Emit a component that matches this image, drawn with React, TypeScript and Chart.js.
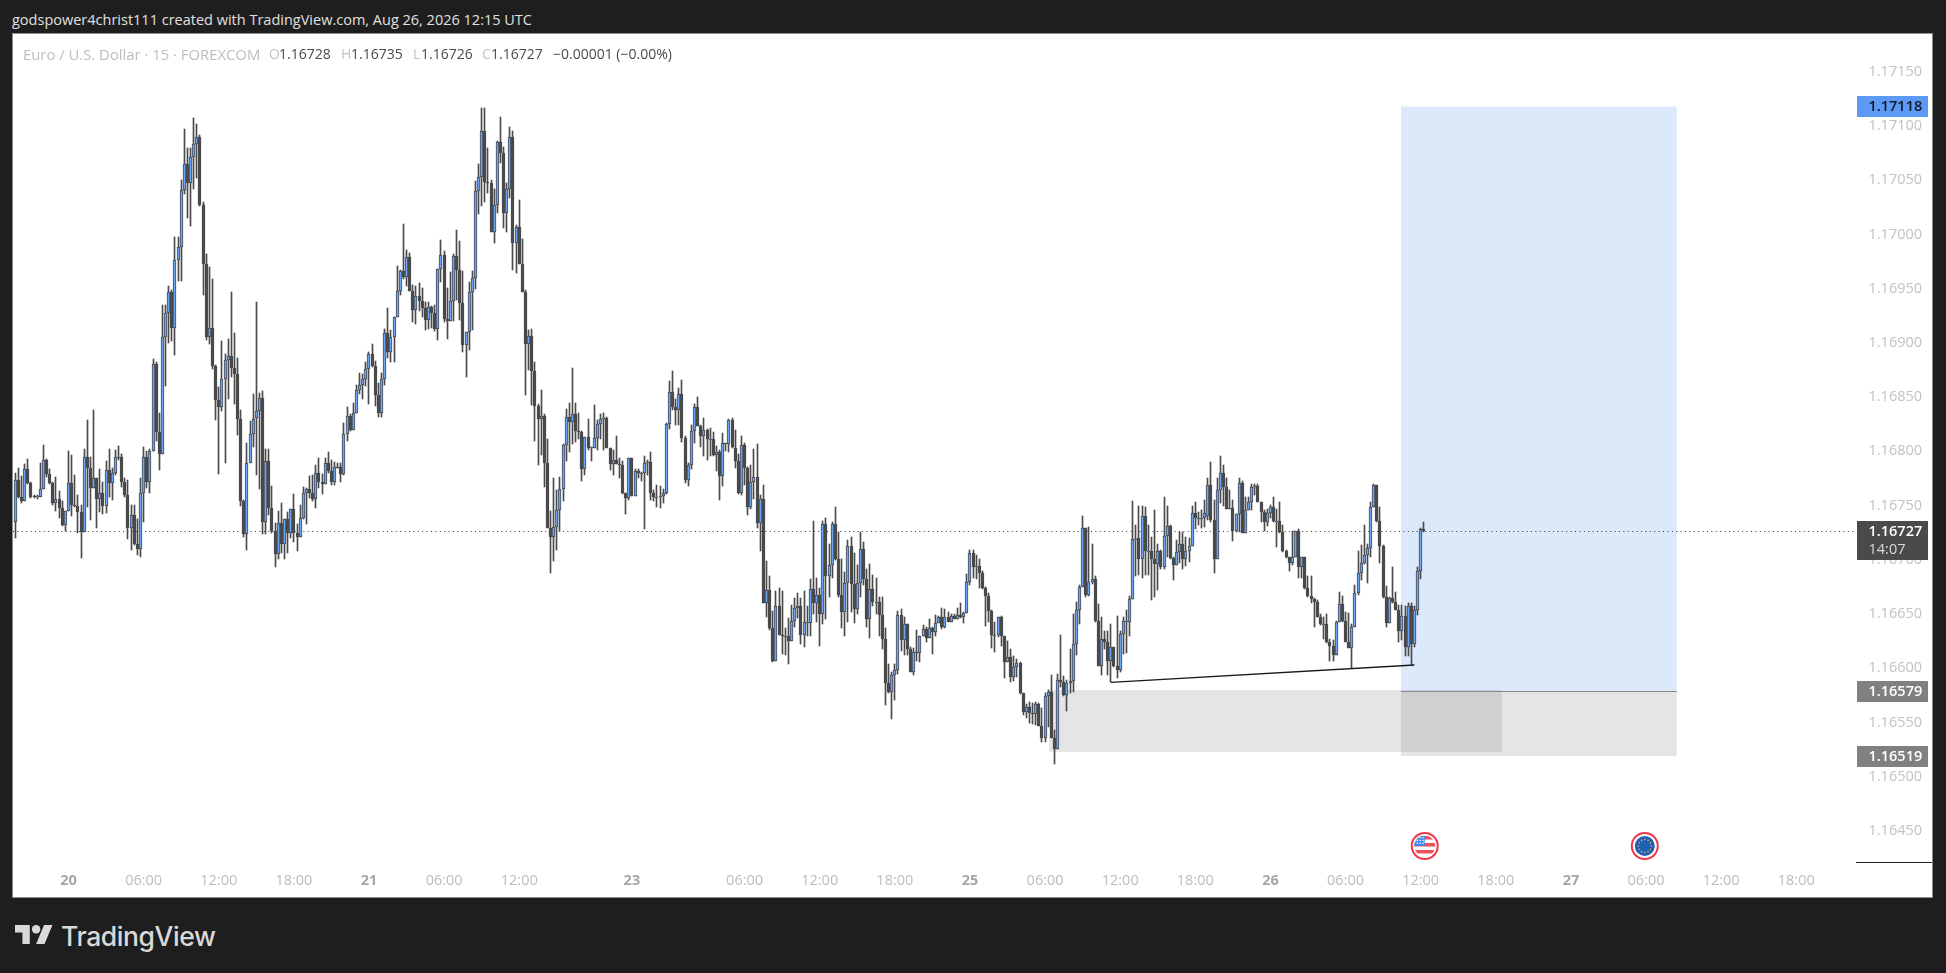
import React, { useEffect, useRef } from "react";
import { Chart, registerables } from "chart.js";

Chart.register(...registerables);

// Candles as [open, high, low, close] in 1e-5 price points.
const session20: number[][] = [
[116735,116780,116720,116774],[116774,116785,116757,116758],[116758,116777,116752,116754],[116754,116788,116754,116784],[116784,116793,116770,116771],[116771,116772,116757,116758],[116759,116760,116757,116758],[116758,116760,116756,116759],[116758,116789,116758,116765],[116765,116806,116765,116792],
[116792,116793,116776,116779],[116779,116784,116770,116771],[116771,116772,116751,116752],[116752,116776,116745,116756],[116756,116763,116739,116748],[116748,116754,116731,116732],[116732,116745,116727,116745],[116745,116800,116745,116771],[116771,116797,116740,116751],[116751,116778,116749,116750],
[116750,116760,116725,116744],[116744,116751,116702,116726],[116726,116802,116726,116795],[116795,116829,116749,116785],[116785,116795,116737,116766],[116766,116838,116766,116775],[116775,116775,116729,116756],[116756,116784,116744,116762],[116762,116772,116742,116750],[116750,116791,116743,116783],
[116783,116802,116758,116771],[116771,116785,116755,116780],[116780,116801,116778,116795],[116795,116805,116792,116795],[116795,116798,116767,116772],[116772,116775,116758,116760],[116760,116774,116719,116729],[116729,116751,116709,116741],[116741,116751,116714,116715],[116715,116738,116704,116710],
[116710,116775,116703,116762],[116762,116804,116735,116795],[116795,116800,116766,116772],[116772,116802,116762,116800],[116800,116885,116800,116881],[116881,116882,116810,116818],[116818,116835,116783,116798],[116798,116935,116798,116905],[116905,116935,116860,116928],[116928,116952,116900,116947],
[116947,116949,116902,116914],[116914,116998,116889,116976],[116976,116998,116957,116988],[116988,117050,116957,117041],[117041,117097,117037,117065],[117065,117080,117015,117047],[117047,117080,117008,117071],[117071,117107,117042,117083],[117083,117102,117052,117090],[117090,117092,117026,117027],
[117027,117030,116944,116973],[116973,116982,116903,116905],[116905,116970,116899,116914],[116914,116959,116876,116879],[116879,116880,116829,116847],[116847,116859,116779,116841],[116841,116902,116837,116867],[116867,116890,116789,116884],[116884,116904,116848,116888],[116888,116947,116869,116877],
[116877,116909,116844,116871],[116871,116886,116815,116830],[116830,116838,116750,116754],[116754,116755,116721,116724],[116724,116808,116709,116789],[116789,116828,116789,116816],[116816,116853,116804,116830],
];

const session21: number[][] = [
[116831,116938,116778,116837],[116837,116854,116765,116849],[116849,116856,116724,116735],[116735,116802,116724,116791],[116791,116802,116741,116748],[116748,116768,116725,116727],[116727,116734,116693,116705],[116705,116745,116701,116734],[116734,116752,116706,116715],[116715,116738,116701,116738],
[116738,116744,116706,116725],[116725,116747,116720,116747],[116747,116761,116716,116725],[116725,116733,116708,116721],[116721,116751,116721,116739],[116739,116767,116738,116762],[116762,116766,116733,116765],[116765,116777,116757,116762],[116762,116778,116754,116756],[116756,116787,116748,116780],
[116780,116794,116766,116772],[116772,116779,116761,116770],[116770,116794,116770,116789],[116789,116799,116780,116782],[116782,116792,116769,116772],[116772,116790,116769,116786],[116786,116789,116785,116785],[116786,116789,116772,116779],[116779,116826,116778,116816],[116816,116841,116810,116833],
[116833,116834,116819,116820],[116820,116845,116820,116835],[116835,116861,116835,116857],[116857,116872,116853,116861],[116861,116871,116848,116867],[116867,116882,116860,116876],[116876,116892,116844,116890],[116890,116899,116878,116879],[116879,116883,116842,116852],[116852,116863,116832,116835],
[116835,116872,116832,116867],[116867,116913,116861,116909],[116909,116932,116886,116892],[116892,116912,116882,116905],[116905,116924,116882,116924],[116924,116971,116924,116948],[116948,116967,116944,116966],[116966,117010,116959,116961],[116961,116986,116952,116979],[116979,116983,116948,116948],
[116948,116953,116919,116930],[116930,116952,116917,116943],[116943,116955,116929,116939],[116939,116951,116924,116932],[116932,116938,116912,116921],[116921,116938,116913,116933],[116933,116934,116914,116928],[116928,116935,116911,116913],[116913,116968,116903,116968],[116968,116995,116956,116981],
[116981,116985,116919,116922],[116922,116951,116904,116920],[116920,116965,116920,116939],[116939,116982,116920,116980],[116980,117004,116940,116967],[116967,116994,116921,116937],[116937,116966,116892,116898],[116898,116910,116869,116910],[116910,116956,116893,116947],[116947,116966,116912,116960],
[116960,117049,116950,117040],[117040,117065,117019,117053],[117053,117117,117026,117095],[117095,117117,117030,117048],[117048,117080,117038,117047],[117047,117050,117002,117002],
];

const session23: number[][] = [
[117002,117042,116992,117027],[117027,117086,117020,117085],[117085,117108,117066,117075],[117075,117081,117006,117020],[117020,117047,117002,117042],[117042,117099,117034,117090],[117090,117095,116967,116992],[116992,117009,116964,117007],[117007,117032,116973,116973],[116973,116996,116947,116947],
[116947,116949,116852,116899],[116899,116912,116875,116906],[116906,116913,116843,116874],[116874,116882,116810,116842],[116842,116844,116787,116830],[116830,116857,116797,116833],[116833,116834,116767,116789],[116789,116811,116729,116729],[116729,116745,116688,116721],[116721,116775,116699,116730],
[116730,116764,116709,116746],[116746,116776,116727,116765],[116765,116807,116754,116806],[116806,116839,116791,116832],[116832,116845,116799,116827],[116827,116877,116807,116834],[116834,116845,116809,116819],[116819,116835,116811,116818],[116818,116819,116773,116784],[116784,116813,116778,116813],
[116813,116830,116801,116803],[116803,116804,116791,116804],[116803,116843,116803,116812],[116812,116829,116801,116825],[116825,116834,116811,116830],[116830,116835,116801,116831],[116831,116832,116803,116803],[116803,116803,116783,116788],[116788,116801,116778,116792],[116792,116814,116788,116788],
[116788,116794,116775,116787],[116787,116791,116761,116762],[116762,116762,116742,116757],[116757,116794,116755,116794],[116794,116794,116759,116759],[116759,116784,116759,116782],[116782,116784,116775,116780],[116780,116781,116773,116780],[116780,116796,116728,116789],[116789,116792,116778,116790],
[116790,116799,116755,116762],[116762,116764,116754,116758],[116758,116769,116749,116758],[116758,116768,116748,116759],[116759,116765,116752,116762],[116762,116826,116761,116825],[116825,116865,116821,116855],[116855,116874,116838,116841],[116841,116848,116824,116838],[116838,116858,116824,116853],
[116853,116866,116809,116812],[116812,116814,116771,116774],[116774,116789,116768,116787],[116787,116824,116784,116819],[116819,116844,116808,116841],[116841,116850,116823,116823],[116823,116824,116804,116814],[116814,116831,116796,116820],[116820,116821,116792,116811],[116811,116822,116796,116811],
[116811,116818,116796,116797],[116797,116805,116782,116799],[116799,116801,116755,116777],[116777,116817,116768,116808],[116808,116808,116800,116807],[116807,116830,116799,116829],[116829,116831,116803,116804],
];

const session24: number[][] = [
[116803,116820,116785,116791],[116791,116798,116761,116762],[116762,116814,116760,116806],[116806,116808,116769,116785],[116785,116786,116741,116749],[116749,116787,116747,116772],[116772,116802,116756,116776],[116776,116807,116729,116734],[116734,116760,116708,116756],[116756,116769,116660,116660],
[116660,116699,116647,116672],[116672,116685,116635,116637],[116637,116653,116606,116607],[116607,116671,116607,116657],[116657,116674,116631,116631],[116631,116671,116613,116630],[116630,116637,116612,116630],[116630,116646,116604,116625],[116625,116658,116625,116644],[116644,116665,116638,116656],
[116656,116669,116646,116657],[116657,116665,116622,116631],[116631,116671,116620,116643],[116643,116657,116630,116643],[116642,116682,116630,116673],[116673,116736,116650,116660],[116660,116683,116643,116668],[116668,116674,116621,116650],[116650,116736,116641,116733],[116733,116739,116645,116685],
[116685,116715,116666,116695],[116695,116735,116683,116733],[116733,116749,116700,116701],[116701,116726,116666,116668],[116668,116701,116637,116652],[116652,116689,116630,116679],[116679,116718,116643,116713],[116713,116721,116652,116678],[116678,116706,116642,116655],[116655,116695,116650,116679],
[116679,116726,116666,116710],[116710,116716,116677,116682],[116682,116692,116638,116645],[116645,116696,116628,116673],[116673,116686,116657,116661],[116661,116683,116650,116661],[116661,116666,116630,116649],[116649,116666,116618,116627],[116627,116637,116566,116586],[116586,116604,116577,116578],
[116578,116597,116553,116594],[116594,116604,116571,116598],[116598,116653,116595,116649],[116649,116655,116616,116626],[116626,116647,116612,116641],[116641,116641,116612,116618],[116618,116620,116597,116597],[116597,116619,116594,116615],[116615,116635,116607,116614],[116614,116630,116606,116630],
[116630,116640,116630,116636],[116636,116638,116624,116628],[116628,116645,116628,116637],[116637,116638,116613,116633],[116633,116649,116630,116642],[116642,116648,116642,116647],[116647,116656,116636,116638],[116638,116655,116637,116647],[116647,116652,116643,116643],[116643,116650,116643,116648],
[116648,116650,116645,116645],[116645,116656,116645,116649],[116649,116660,116646,116647],[116647,116652,116642,116651],[116651,116687,116651,116680],[116680,116709,116677,116706],[116706,116709,116683,116693],
];

const session25: number[][] = [
[116693,116704,116682,116694],[116694,116701,116674,116688],[116688,116690,116673,116674],[116674,116675,116639,116667],[116667,116669,116643,116653],[116653,116654,116619,116631],[116631,116643,116615,116631],[116631,116647,116629,116647],[116647,116648,116621,116630],[116630,116630,116591,116606],
[116606,116625,116606,116610],[116610,116618,116587,116592],[116592,116611,116588,116601],[116601,116609,116592,116605],[116605,116606,116576,116577],[116577,116577,116557,116560],[116560,116567,116554,116564],[116564,116569,116550,116559],[116559,116568,116549,116558],[116558,116569,116548,116567],
[116567,116568,116547,116547],[116547,116563,116532,116536],[116536,116577,116532,116574],[116574,116580,116546,116578],[116578,116594,116536,116536],[116536,116543,116512,116526],[116526,116595,116526,116589],[116589,116631,116583,116587],[116587,116593,116574,116575],[116575,116589,116561,116586],
[116586,116618,116577,116588],[116588,116650,116578,116622],[116622,116661,116612,116654],[116654,116677,116641,116675],[116675,116740,116675,116729],[116729,116729,116666,116668],[116668,116730,116667,116680],[116680,116715,116678,116682],[116682,116685,116643,116644],[116644,116659,116602,116602],
[116602,116647,116594,116627],[116627,116634,116618,116624],[116624,116634,116594,116607],[116607,116641,116587,116620],[116620,116620,116601,116602],[116602,116648,116591,116598],[116598,116634,116597,116632],[116632,116647,116613,116644],[116643,116654,116614,116644],[116643,116667,116630,116664],
[116664,116754,116664,116719],[116719,116732,116685,116719],[116720,116750,116686,116701],[116701,116750,116683,116740],[116740,116749,116686,116708],[116708,116732,116686,116708],[116708,116721,116663,116701],[116701,116746,116666,116696],[116696,116715,116672,116708],[116708,116709,116692,116693],
[116693,116758,116692,116722],[116722,116750,116703,116731],[116731,116732,116701,116702],[116702,116703,116681,116695],[116695,116718,116695,116707],[116707,116726,116697,116715],[116715,116726,116692,116701],[116701,116721,116694,116708],[116708,116720,116698,116713],[116713,116750,116713,116743],
[116743,116753,116728,116739],[116739,116744,116732,116739],[116739,116746,116729,116739],[116739,116755,116730,116743],[116740,116775,116737,116769],[116769,116790,116735,116737],
];

const session26: number[][] = [
[116737,116755,116688,116701],[116701,116775,116701,116764],[116764,116796,116752,116780],[116780,116787,116750,116767],[116767,116775,116747,116747],[116747,116764,116747,116748],[116748,116755,116717,116727],[116727,116742,116726,116742],[116742,116775,116726,116771],[116771,116773,116725,116725],
[116725,116758,116725,116746],[116746,116758,116746,116753],[116753,116770,116746,116767],[116767,116770,116760,116768],[116768,116770,116753,116753],[116753,116753,116735,116744],[116744,116746,116727,116735],[116735,116747,116731,116743],[116743,116751,116739,116749],[116749,116758,116735,116736],
[116736,116747,116712,116736],[116736,116753,116725,116726],[116726,116732,116707,116708],[116708,116709,116702,116703],[116703,116703,116690,116697],[116697,116727,116695,116703],[116703,116727,116703,116727],[116727,116728,116683,116693],[116693,116703,116683,116703],[116703,116703,116673,116674],
[116674,116685,116666,116667],[116667,116685,116660,116664],[116664,116665,116638,116661],[116661,116663,116647,116647],[116647,116650,116640,116641],[116641,116647,116627,116641],[116641,116650,116623,116624],[116624,116627,116607,116621],[116621,116626,116607,116612],[116612,116644,116612,116643],
[116643,116670,116643,116659],[116659,116667,116643,116644],[116644,116652,116624,116624],[116624,116651,116619,116619],[116619,116641,116600,116638],[116638,116677,116638,116669],[116669,116708,116668,116688],[116688,116714,116681,116697],[116697,116732,116696,116704],[116704,116715,116679,116711],
[116711,116753,116703,116749],[116749,116770,116749,116769],[116769,116769,116735,116736],[116736,116749,116697,116713],[116713,116714,116665,116666],[116666,116676,116638,116642],[116642,116666,116642,116665],[116665,116693,116660,116661],[116661,116670,116654,116654],[116654,116658,116624,116634],
[116634,116658,116626,116648],[116648,116657,116611,116620],[116620,116660,116611,116657],[116657,116660,116603,116622],[116622,116657,116620,116654],[116654,116693,116649,116690],[116690,116729,116682,116728],[116728,116735,116726,116727],
];

const POINTS_PER_PRICE = 100000;
const priceTicks = [1.1645, 1.165, 1.1655, 1.166, 1.1665, 1.167, 1.1675, 1.168, 1.1685, 1.169, 1.1695, 1.17, 1.1705, 1.171, 1.1715];
const timeTickBars = [17, 41, 65, 89, 113, 137, 161, 197, 233, 257, 281, 305, 329, 353, 377, 401, 425, 449, 473, 497, 521, 545, 569];
const timeTickLabels = ["20", "06:00", "12:00", "18:00", "21", "06:00", "12:00", "23", "06:00", "12:00", "18:00", "25", "06:00", "12:00", "18:00", "26", "06:00", "12:00", "18:00", "27", "06:00", "12:00", "18:00"];
const dayLabels = ["20", "21", "23", "25", "26", "27"];

const lastPrice = 1.16727;
const targetPrice = 1.17118;
const entryPrice = 1.16579;
const stopPrice = 1.16519;
const countdownLabel = "14:07";
const positionBars = [442.7, 530.8];
const zoneBars = [330.3, 474.9];
const zonePrices = [1.1658, 1.16523];
const trendBars = [350, 447];
const trendPrices = [1.16587, 1.16603];
const eventBars = [450.3, 520.6];

const candles = [...session20, ...session21, ...session23, ...session24, ...session25, ...session26].map(
  ([o, h, l, c], i) => ({ x: i, o: o / POINTS_PER_PRICE, h: h / POINTS_PER_PRICE, l: l / POINTS_PER_PRICE, c: c / POINTS_PER_PRICE })
);

const DARK = "#4a4a4a";
const UP = "#6aa5f5";
const AXIS_FONT = "'Open Sans', sans-serif";

// Keep the library's computed bar rectangles on whole device pixels, so candles stay crisp.
const crispBars = {
  id: "crispBars",
  beforeDatasetDraw(chart: any, args: any) {
    for (const el of args.meta.data) {
      el.x = Math.round(el.x - 0.5) + 0.5;
      el.y = Math.round(el.y);
      el.base = Math.round(el.base);
      if (el.base === el.y) el.base = el.y + 1;
    }
  },
};

const overlays = {
  id: "overlays",
  beforeDatasetsDraw(chart: any) {
    const { ctx, scales, chartArea } = chart;
    const X = scales.x, Y = scales.y;
    const rect = (x0: number, x1: number, p0: number, p1: number, fill: string) => {
      ctx.fillStyle = fill;
      ctx.fillRect(X.getPixelForValue(x0), Y.getPixelForValue(p0), X.getPixelForValue(x1) - X.getPixelForValue(x0), Y.getPixelForValue(p1) - Y.getPixelForValue(p0));
    };
    ctx.save();
    rect(positionBars[0], positionBars[1], targetPrice, entryPrice, "#dce9fb");
    rect(positionBars[0], positionBars[1], entryPrice, stopPrice, "rgba(100,100,100,0.17)");
    rect(zoneBars[0], zoneBars[1], zonePrices[0], zonePrices[1], "rgba(100,100,100,0.17)");
    ctx.strokeStyle = "#8a8a8a";
    ctx.lineWidth = 1;
    const ey = Math.round(Y.getPixelForValue(entryPrice)) + 0.5;
    ctx.beginPath();
    ctx.moveTo(X.getPixelForValue(positionBars[0]), ey);
    ctx.lineTo(X.getPixelForValue(positionBars[1]), ey);
    ctx.stroke();
    const ly = Math.round(Y.getPixelForValue(lastPrice)) + 0.5;
    ctx.strokeStyle = "#333333";
    ctx.setLineDash([1, 3.4]);
    ctx.beginPath();
    ctx.moveTo(chartArea.left, ly);
    ctx.lineTo(chartArea.right, ly);
    ctx.stroke();
    ctx.restore();
  },
  afterDatasetsDraw(chart: any) {
    const { ctx, scales, chartArea, width } = chart;
    const X = scales.x, Y = scales.y;
    ctx.save();
    ctx.strokeStyle = "#1a1a1a";
    ctx.lineWidth = 1.4;
    ctx.beginPath();
    ctx.moveTo(X.getPixelForValue(trendBars[0]), Y.getPixelForValue(trendPrices[0]));
    ctx.lineTo(X.getPixelForValue(trendBars[1]), Y.getPixelForValue(trendPrices[1]));
    ctx.stroke();

    // axis baseline on the price scale
    ctx.strokeStyle = "#222222";
    ctx.lineWidth = 1;
    ctx.beginPath();
    ctx.moveTo(chartArea.right, chartArea.bottom + 0.5);
    ctx.lineTo(width, chartArea.bottom + 0.5);
    ctx.stroke();

    // price tags
    const tag = (p: number, h: number, bg: string, fg: string, text: string, sub?: string) => {
      const y = Math.round(Y.getPixelForValue(p));
      ctx.fillStyle = bg;
      const top = y - 10;
      ctx.fillRect(chartArea.right + 1, top, 71, h);
      ctx.fillStyle = fg;
      ctx.font = `600 14.5px ${AXIS_FONT}`;
      ctx.textAlign = "left";
      ctx.textBaseline = "middle";
      ctx.fillText(text, chartArea.right + 12.5, y + 0.5);
      if (sub) {
        ctx.font = `500 14.5px ${AXIS_FONT}`;
        ctx.fillStyle = "#d8d8d8";
        ctx.fillText(sub, chartArea.right + 12.5, y + 18.5);
      }
    };
    tag(targetPrice, 21, "#5c9af5", "#131722", targetPrice.toFixed(5));
    tag(lastPrice, 39, "#4a4a4a", "#ffffff", lastPrice.toFixed(5), countdownLabel);
    tag(entryPrice, 21, "#808080", "#ffffff", entryPrice.toFixed(5));
    tag(stopPrice, 21, "#808080", "#ffffff", stopPrice.toFixed(5));

    // economic events
    const cy = chartArea.bottom - 16;
    const usX = X.getPixelForValue(eventBars[0]);
    const euX = X.getPixelForValue(eventBars[1]);
    const ring = (x: number, r: number) => {
      ctx.beginPath();
      ctx.arc(x, cy, r, 0, Math.PI * 2);
      ctx.fillStyle = "#ffffff";
      ctx.fill();
      ctx.lineWidth = 2;
      ctx.strokeStyle = "#f23645";
      ctx.stroke();
    };
    ring(usX, 13);
    ctx.save();
    ctx.beginPath();
    ctx.arc(usX, cy, 10.5, 0, Math.PI * 2);
    ctx.clip();
    ctx.fillStyle = "#ffffff";
    ctx.fillRect(usX - 12, cy - 12, 24, 24);
    ctx.fillStyle = "#f0505a";
    for (const dy of [-10, -3, 4]) ctx.fillRect(usX - 12, cy + dy, 24, 3.5);
    ctx.fillStyle = "#3d8bf2";
    ctx.fillRect(usX - 12, cy - 12, 12, 12);
    ctx.fillStyle = "#ffffff";
    for (let i = 0; i < 3; i++) for (let j = 0; j < 3; j++) ctx.fillRect(usX - 8 + i * 2.8, cy - 9 + j * 2.8, 1.3, 1.3);
    ctx.restore();

    ring(euX, 13);
    ctx.beginPath();
    ctx.arc(euX, cy, 10, 0, Math.PI * 2);
    ctx.fillStyle = "#1f5fb5";
    ctx.fill();
    ctx.fillStyle = "#e8c23a";
    for (let i = 0; i < 12; i++) {
      const a = (i / 12) * Math.PI * 2;
      ctx.beginPath();
      ctx.arc(euX + Math.cos(a) * 6.5, cy + Math.sin(a) * 6.5, 0.8, 0, Math.PI * 2);
      ctx.fill();
    }
    ctx.restore();
  },
};

const legendLabels: [string, number, string, number][] = [
  ["Euro / U.S. Dollar · 15 · FOREXCOM", 23, "#bdbdbd", 14.85],
  ["O", 269, "#c4c4c4", 14], ["1.16728", 279, "#4a4a4a", 14],
  ["H", 341, "#c4c4c4", 14], ["1.16735", 351, "#4a4a4a", 14],
  ["L", 413, "#c4c4c4", 14], ["1.16726", 421, "#4a4a4a", 14],
  ["C", 482, "#c4c4c4", 14], ["1.16727", 491, "#4a4a4a", 14],
  ["−0.00001 (−0.00%)", 553, "#4a4a4a", 14],
];

export default function App() {
  const ref = useRef<HTMLCanvasElement | null>(null);
  useEffect(() => {
    const chart = new Chart(ref.current as HTMLCanvasElement, {
      type: "bar",
      data: {
        datasets: [
          {
            label: "Body",
            order: 1,
            grouped: false,
            barThickness: 3,
            barPercentage: 1,
            categoryPercentage: 1,
            borderSkipped: false,
            borderWidth: 1,
            borderColor: DARK,
            backgroundColor: candles.map((k) => (k.c >= k.o ? UP : DARK)),
            data: candles.map((k) => ({ x: k.x, y: [k.o, k.c] })),
          } as any,
          {
            label: "Wick",
            order: 2,
            grouped: false,
            barThickness: 1,
            barPercentage: 1,
            categoryPercentage: 1,
            borderWidth: 0,
            backgroundColor: DARK,
            data: candles.map((k) => ({ x: k.x, y: [k.l, k.h] })),
          } as any,
        ],
      },
      options: {
        animation: false,
        responsive: false,
        devicePixelRatio: 1,
        layout: { padding: 0 },
        plugins: { legend: { display: false }, tooltip: { enabled: false } },
        scales: {
          x: {
            type: "linear",
            min: -0.735,
            max: 588.08,
            offset: false,
            grid: { display: false, drawTicks: false },
            border: { display: false },
            afterBuildTicks: (s: any) => {
              s.ticks = timeTickBars.map((value) => ({ value }));
            },
            afterFit: (s: any) => {
              s.height = 35;
              s.paddingLeft = 0;
              s.paddingRight = 0;
            },
            ticks: {
              autoSkip: false,
              maxRotation: 0,
              padding: 10,
              color: (c: any) => (dayLabels.includes(timeTickLabels[c.index]) ? "#a6a6a6" : "#bcbcbc"),
              font: (c: any) => ({ family: AXIS_FONT, size: 14.5, weight: dayLabels.includes(timeTickLabels[c.index]) ? "700" : "400" }),
              callback: (_v: any, i: number) => timeTickLabels[i],
            },
          } as any,
          y: {
            type: "linear",
            position: "right",
            min: 1.164214,
            max: 1.171848,
            grid: { display: false, drawTicks: false },
            border: { display: false },
            afterBuildTicks: (s: any) => {
              s.ticks = priceTicks.map((value) => ({ value }));
            },
            afterFit: (s: any) => {
              s.width = 76;
              s.paddingTop = 0;
              s.paddingBottom = 0;
            },
            ticks: {
              autoSkip: false,
              padding: 12.5,
              color: "#c2c2c2",
              font: { family: AXIS_FONT, size: 14.5 },
              callback: (v: any) => Number(v).toFixed(5),
            },
          } as any,
        },
      },
      plugins: [crispBars, overlays],
    } as any);
    return () => chart.destroy();
  }, []);

  return (
    <div style={{ position: "fixed", inset: 0, background: "#1e1e1e", overflow: "hidden", fontFamily: AXIS_FONT }}>
      <div style={{ position: "absolute", left: 12, top: 10, fontSize: 14.5, lineHeight: "20px", color: "#e0e0e0", whiteSpace: "nowrap" }}>
        godspower4christ111 created with TradingView.com, Aug 26, 2026 12:15 UTC
      </div>
      <div style={{ position: "absolute", left: 13, top: 34, width: 1919, height: 863, background: "#ffffff", boxShadow: "0 0 0 1px #8c8c8c" }}>
        <canvas ref={ref} width={1919} height={863} style={{ display: "block", width: 1919, height: 863 }} />
      </div>
      {legendLabels.map(([t, x, color, size], i) => (
        <div key={i} style={{ position: "absolute", left: x, top: 44, fontSize: size, lineHeight: "20px", color, whiteSpace: "nowrap" }}>
          {t}
        </div>
      ))}
      <svg style={{ position: "absolute", left: 15, top: 925 }} width={38} height={19} viewBox="0 4 36 18" preserveAspectRatio="none">
        <path fill="#d9d9d9" d="M14 22H7V11H0V4h14v18zM28 22h-8l7.5-18h8L28 22z" />
        <circle fill="#d9d9d9" cx="20" cy="8" r="4" />
      </svg>
      <div style={{ position: "absolute", left: 61, top: 918, fontFamily: "Inter, sans-serif", fontWeight: 500, fontSize: 26.5, lineHeight: "36px", letterSpacing: -0.4, color: "#d9d9d9", whiteSpace: "nowrap" }}>
        TradingView
      </div>
    </div>
  );
}
